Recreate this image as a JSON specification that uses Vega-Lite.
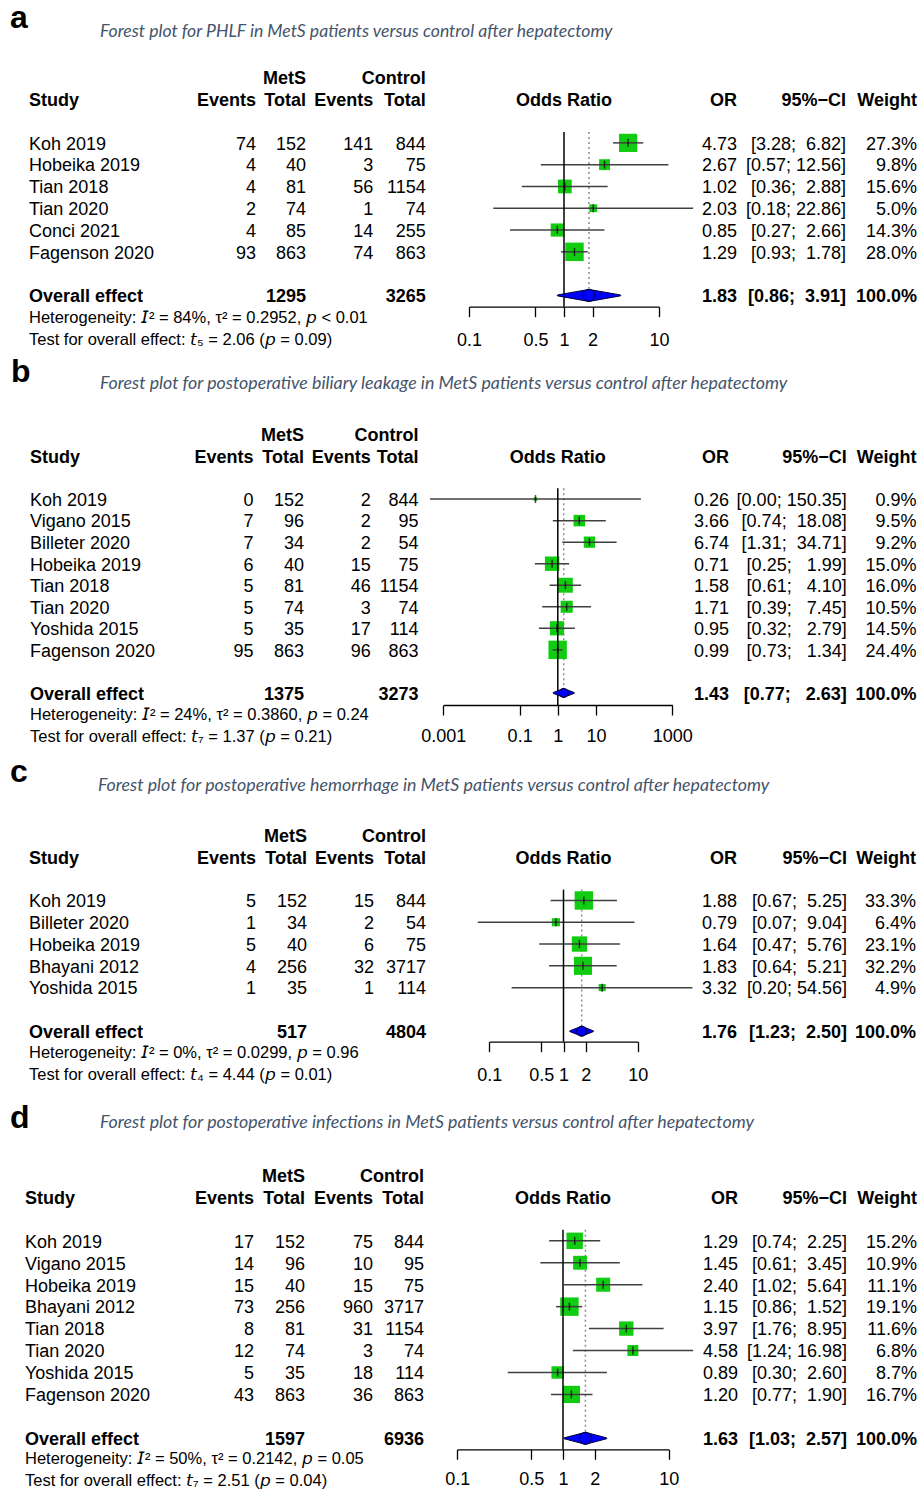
{
"$schema": "https://vega.github.io/schema/vega-lite/v6.json",
"padding": 0,
"background": "white",
"spacing": 0,
"config": {"view": {"stroke": null}, "text": {"font": "Liberation Sans", "fontSize": 18, "color": "#000000", "baseline": "middle", "dy": 1.8}},
"resolve": {"scale": {"x": "independent", "y": "independent", "size": "independent"}},
"datasets": {
"aR": [
{"row":"Koh 2019","e1":74,"n1":152,"e2":141,"n2":844,"or":4.73,"lo":3.28,"hi":6.82,"ci":"[3.28;\u00a0\u00a06.82]","w":0.273},
{"row":"Hobeika 2019","e1":4,"n1":40,"e2":3,"n2":75,"or":2.67,"lo":0.57,"hi":12.56,"ci":"[0.57;\u00a012.56]","w":0.098},
{"row":"Tian 2018","e1":4,"n1":81,"e2":56,"n2":1154,"or":1.02,"lo":0.36,"hi":2.88,"ci":"[0.36;\u00a0\u00a02.88]","w":0.156},
{"row":"Tian 2020","e1":2,"n1":74,"e2":1,"n2":74,"or":2.03,"lo":0.18,"hi":22.86,"ci":"[0.18;\u00a022.86]","w":0.05},
{"row":"Conci 2021","e1":4,"n1":85,"e2":14,"n2":255,"or":0.85,"lo":0.27,"hi":2.66,"ci":"[0.27;\u00a0\u00a02.66]","w":0.143},
{"row":"Fagenson 2020","e1":93,"n1":863,"e2":74,"n2":863,"or":1.29,"lo":0.93,"hi":1.78,"ci":"[0.93;\u00a0\u00a01.78]","w":0.28}
],
"aB": [
{"row":"h1","c0":"","c1":"","c2":"MetS","c3":"","c4":"Control","c5":"","c6":"","c7":""},
{"row":"h2","c0":"Study","c1":"Events","c2":"Total","c3":"Events","c4":"Total","c5":"OR","c6":"95%\u2212CI","c7":"Weight"},
{"row":"overall","c0":"Overall effect","c1":"","c2":"1295","c3":"","c4":"3265","c5":"1.83","c6":"[0.86;\u00a0\u00a03.91]","c7":"100.0%","or":1.83,"lo":0.86,"hi":3.91}
],
"aM": [
{"row":"lab","t":"a","sub":"Forest plot for PHLF in MetS patients versus control after hepatectomy"},
{"row":"het","t":"Heterogeneity: 𝘐² = 84%, τ² = 0.2952, 𝘱 < 0.01"},
{"row":"test","t":"Test for overall effect: 𝘵₅ = 2.06 (𝘱 = 0.09)"}
],
"bR": [
{"row":"Koh 2019","e1":0,"n1":152,"e2":2,"n2":844,"or":0.26,"lo":0.00045,"hi":150.35,"ci":"[0.00;\u00a0150.35]","w":0.009},
{"row":"Vigano 2015","e1":7,"n1":96,"e2":2,"n2":95,"or":3.66,"lo":0.74,"hi":18.08,"ci":"[0.74;\u00a0\u00a018.08]","w":0.095},
{"row":"Billeter 2020","e1":7,"n1":34,"e2":2,"n2":54,"or":6.74,"lo":1.31,"hi":34.71,"ci":"[1.31;\u00a0\u00a034.71]","w":0.092},
{"row":"Hobeika 2019","e1":6,"n1":40,"e2":15,"n2":75,"or":0.71,"lo":0.25,"hi":1.99,"ci":"[0.25;\u00a0\u00a0\u00a01.99]","w":0.15},
{"row":"Tian 2018","e1":5,"n1":81,"e2":46,"n2":1154,"or":1.58,"lo":0.61,"hi":4.10,"ci":"[0.61;\u00a0\u00a0\u00a04.10]","w":0.16},
{"row":"Tian 2020","e1":5,"n1":74,"e2":3,"n2":74,"or":1.71,"lo":0.39,"hi":7.45,"ci":"[0.39;\u00a0\u00a0\u00a07.45]","w":0.105},
{"row":"Yoshida 2015","e1":5,"n1":35,"e2":17,"n2":114,"or":0.95,"lo":0.32,"hi":2.79,"ci":"[0.32;\u00a0\u00a0\u00a02.79]","w":0.145},
{"row":"Fagenson 2020","e1":95,"n1":863,"e2":96,"n2":863,"or":0.99,"lo":0.73,"hi":1.34,"ci":"[0.73;\u00a0\u00a0\u00a01.34]","w":0.244}
],
"bB": [
{"row":"h1","c0":"","c1":"","c2":"MetS","c3":"","c4":"Control","c5":"","c6":"","c7":""},
{"row":"h2","c0":"Study","c1":"Events","c2":"Total","c3":"Events","c4":"Total","c5":"OR","c6":"95%\u2212CI","c7":"Weight"},
{"row":"overall","c0":"Overall effect","c1":"","c2":"1375","c3":"","c4":"3273","c5":"1.43","c6":"[0.77;\u00a0\u00a0\u00a02.63]","c7":"100.0%","or":1.43,"lo":0.77,"hi":2.63}
],
"bM": [
{"row":"lab","t":"b","sub":"Forest plot for postoperative biliary leakage in MetS patients versus control after hepatectomy"},
{"row":"het","t":"Heterogeneity: 𝘐² = 24%, τ² = 0.3860, 𝘱 = 0.24"},
{"row":"test","t":"Test for overall effect: 𝘵₇ = 1.37 (𝘱 = 0.21)"}
],
"cR": [
{"row":"Koh 2019","e1":5,"n1":152,"e2":15,"n2":844,"or":1.88,"lo":0.67,"hi":5.25,"ci":"[0.67;\u00a0\u00a05.25]","w":0.333},
{"row":"Billeter 2020","e1":1,"n1":34,"e2":2,"n2":54,"or":0.79,"lo":0.07,"hi":9.04,"ci":"[0.07;\u00a0\u00a09.04]","w":0.064},
{"row":"Hobeika 2019","e1":5,"n1":40,"e2":6,"n2":75,"or":1.64,"lo":0.47,"hi":5.76,"ci":"[0.47;\u00a0\u00a05.76]","w":0.231},
{"row":"Bhayani 2012","e1":4,"n1":256,"e2":32,"n2":3717,"or":1.83,"lo":0.64,"hi":5.21,"ci":"[0.64;\u00a0\u00a05.21]","w":0.322},
{"row":"Yoshida 2015","e1":1,"n1":35,"e2":1,"n2":114,"or":3.32,"lo":0.20,"hi":54.56,"ci":"[0.20;\u00a054.56]","w":0.049}
],
"cB": [
{"row":"h1","c0":"","c1":"","c2":"MetS","c3":"","c4":"Control","c5":"","c6":"","c7":""},
{"row":"h2","c0":"Study","c1":"Events","c2":"Total","c3":"Events","c4":"Total","c5":"OR","c6":"95%\u2212CI","c7":"Weight"},
{"row":"overall","c0":"Overall effect","c1":"","c2":"517","c3":"","c4":"4804","c5":"1.76","c6":"[1.23;\u00a0\u00a02.50]","c7":"100.0%","or":1.76,"lo":1.23,"hi":2.50}
],
"cM": [
{"row":"lab","t":"c","sub":"Forest plot for postoperative hemorrhage in MetS patients versus control after hepatectomy"},
{"row":"het","t":"Heterogeneity: 𝘐² = 0%, τ² = 0.0299, 𝘱 = 0.96"},
{"row":"test","t":"Test for overall effect: 𝘵₄ = 4.44 (𝘱 = 0.01)"}
],
"dR": [
{"row":"Koh 2019","e1":17,"n1":152,"e2":75,"n2":844,"or":1.29,"lo":0.74,"hi":2.25,"ci":"[0.74;\u00a0\u00a02.25]","w":0.152},
{"row":"Vigano 2015","e1":14,"n1":96,"e2":10,"n2":95,"or":1.45,"lo":0.61,"hi":3.45,"ci":"[0.61;\u00a0\u00a03.45]","w":0.109},
{"row":"Hobeika 2019","e1":15,"n1":40,"e2":15,"n2":75,"or":2.40,"lo":1.02,"hi":5.64,"ci":"[1.02;\u00a0\u00a05.64]","w":0.111},
{"row":"Bhayani 2012","e1":73,"n1":256,"e2":960,"n2":3717,"or":1.15,"lo":0.86,"hi":1.52,"ci":"[0.86;\u00a0\u00a01.52]","w":0.191},
{"row":"Tian 2018","e1":8,"n1":81,"e2":31,"n2":1154,"or":3.97,"lo":1.76,"hi":8.95,"ci":"[1.76;\u00a0\u00a08.95]","w":0.116},
{"row":"Tian 2020","e1":12,"n1":74,"e2":3,"n2":74,"or":4.58,"lo":1.24,"hi":16.98,"ci":"[1.24;\u00a016.98]","w":0.068},
{"row":"Yoshida 2015","e1":5,"n1":35,"e2":18,"n2":114,"or":0.89,"lo":0.30,"hi":2.60,"ci":"[0.30;\u00a0\u00a02.60]","w":0.087},
{"row":"Fagenson 2020","e1":43,"n1":863,"e2":36,"n2":863,"or":1.20,"lo":0.77,"hi":1.90,"ci":"[0.77;\u00a0\u00a01.90]","w":0.167}
],
"dB": [
{"row":"h1","c0":"","c1":"","c2":"MetS","c3":"","c4":"Control","c5":"","c6":"","c7":""},
{"row":"h2","c0":"Study","c1":"Events","c2":"Total","c3":"Events","c4":"Total","c5":"OR","c6":"95%\u2212CI","c7":"Weight"},
{"row":"overall","c0":"Overall effect","c1":"","c2":"1597","c3":"","c4":"6936","c5":"1.63","c6":"[1.03;\u00a0\u00a02.57]","c7":"100.0%","or":1.63,"lo":1.03,"hi":2.57}
],
"dM": [
{"row":"lab","t":"d","sub":"Forest plot for postoperative infections in MetS patients versus control after hepatectomy"},
{"row":"het","t":"Heterogeneity: 𝘐² = 50%, τ² = 0.2142, 𝘱 = 0.05"},
{"row":"test","t":"Test for overall effect: 𝘵₇ = 2.51 (𝘱 = 0.04)"}
]
},
"vconcat": [
{
"width": 921, "height": 350,
"encoding": {"y": {"field": "row", "type": "ordinal", "axis": null, "scale": {"type": "point", "padding": 0, "range": [33.9, 339], "domain": ["lab","gap","h1","h2","sp1","Koh 2019","Hobeika 2019","Tian 2018","Tian 2020","Conci 2021","Fagenson 2020","sp2","overall","het","test"]}}},
"resolve": {"scale": {"x": "independent", "size": "independent"}, "axis": {"x": "independent"}},
"layer": [
{"data":{"name":"aM"},"transform":[{"filter":"datum.row=='lab'"}],"mark":{"type":"text","align":"left","baseline":"alphabetic","fontSize":32,"fontWeight":"bold","dy":-5.6},"encoding":{"x":{"datum":10,"type":"quantitative","scale":{"domain":[0,921],"nice":false,"zero":false},"axis":null},"text":{"field":"t","type":"nominal"}}},
{"data":{"name":"aM"},"transform":[{"filter":"datum.row=='lab'"}],"mark":{"type":"text","align":"left","font":"Lato","fontStyle":"italic","fontSize":17.6,"color":"#44546a","dy":-1.5},"encoding":{"x":{"datum":100,"type":"quantitative","scale":{"domain":[0,921],"nice":false,"zero":false},"axis":null},"text":{"field":"sub","type":"nominal"}}},
{"data":{"name":"aM"},"transform":[{"filter":"datum.row!='lab'"}],"mark":{"type":"text","align":"left","fontSize":16.5,"dy":0.5},"encoding":{"x":{"datum":29,"type":"quantitative","scale":{"domain":[0,921],"nice":false,"zero":false},"axis":null},"text":{"field":"t","type":"nominal"}}},
{"data":{"name":"aB"},"mark":{"type":"text","align":"left","fontWeight":"bold"},"encoding":{"x":{"datum":29,"type":"quantitative","scale":{"domain":[0,921],"nice":false,"zero":false},"axis":null},"text":{"field":"c0","type":"nominal"}}},
{"data":{"name":"aB"},"mark":{"type":"text","align":"right","fontWeight":"bold"},"encoding":{"x":{"datum":256,"type":"quantitative","scale":{"domain":[0,921],"nice":false,"zero":false},"axis":null},"text":{"field":"c1","type":"nominal"}}},
{"data":{"name":"aB"},"mark":{"type":"text","align":"right","fontWeight":"bold"},"encoding":{"x":{"datum":306,"type":"quantitative","scale":{"domain":[0,921],"nice":false,"zero":false},"axis":null},"text":{"field":"c2","type":"nominal"}}},
{"data":{"name":"aB"},"mark":{"type":"text","align":"right","fontWeight":"bold"},"encoding":{"x":{"datum":373.3,"type":"quantitative","scale":{"domain":[0,921],"nice":false,"zero":false},"axis":null},"text":{"field":"c3","type":"nominal"}}},
{"data":{"name":"aB"},"mark":{"type":"text","align":"right","fontWeight":"bold"},"encoding":{"x":{"datum":425.7,"type":"quantitative","scale":{"domain":[0,921],"nice":false,"zero":false},"axis":null},"text":{"field":"c4","type":"nominal"}}},
{"data":{"name":"aB"},"mark":{"type":"text","align":"right","fontWeight":"bold"},"encoding":{"x":{"datum":737,"type":"quantitative","scale":{"domain":[0,921],"nice":false,"zero":false},"axis":null},"text":{"field":"c5","type":"nominal"}}},
{"data":{"name":"aB"},"mark":{"type":"text","align":"right","fontWeight":"bold"},"encoding":{"x":{"datum":846,"type":"quantitative","scale":{"domain":[0,921],"nice":false,"zero":false},"axis":null},"text":{"field":"c6","type":"nominal"}}},
{"data":{"name":"aB"},"mark":{"type":"text","align":"right","fontWeight":"bold"},"encoding":{"x":{"datum":917,"type":"quantitative","scale":{"domain":[0,921],"nice":false,"zero":false},"axis":null},"text":{"field":"c7","type":"nominal"}}},
{"data":{"name":"aR"},"mark":{"type":"text","align":"left"},"encoding":{"x":{"datum":29,"type":"quantitative","scale":{"domain":[0,921],"nice":false,"zero":false},"axis":null},"text":{"field":"row","type":"nominal"}}},
{"data":{"name":"aR"},"mark":{"type":"text","align":"right"},"encoding":{"x":{"datum":256,"type":"quantitative","scale":{"domain":[0,921],"nice":false,"zero":false},"axis":null},"text":{"field":"e1","type":"nominal"}}},
{"data":{"name":"aR"},"mark":{"type":"text","align":"right"},"encoding":{"x":{"datum":306,"type":"quantitative","scale":{"domain":[0,921],"nice":false,"zero":false},"axis":null},"text":{"field":"n1","type":"nominal"}}},
{"data":{"name":"aR"},"mark":{"type":"text","align":"right"},"encoding":{"x":{"datum":373.3,"type":"quantitative","scale":{"domain":[0,921],"nice":false,"zero":false},"axis":null},"text":{"field":"e2","type":"nominal"}}},
{"data":{"name":"aR"},"mark":{"type":"text","align":"right"},"encoding":{"x":{"datum":425.7,"type":"quantitative","scale":{"domain":[0,921],"nice":false,"zero":false},"axis":null},"text":{"field":"n2","type":"nominal"}}},
{"data":{"name":"aR"},"mark":{"type":"text","align":"right"},"encoding":{"x":{"datum":737,"type":"quantitative","scale":{"domain":[0,921],"nice":false,"zero":false},"axis":null},"text":{"field":"or","type":"quantitative","format":".2f"}}},
{"data":{"name":"aR"},"mark":{"type":"text","align":"right"},"encoding":{"x":{"datum":846,"type":"quantitative","scale":{"domain":[0,921],"nice":false,"zero":false},"axis":null},"text":{"field":"ci","type":"nominal"}}},
{"data":{"name":"aR"},"mark":{"type":"text","align":"right"},"encoding":{"x":{"datum":917,"type":"quantitative","scale":{"domain":[0,921],"nice":false,"zero":false},"axis":null},"text":{"field":"w","type":"quantitative","format":".1%"}}},
{"data":{"name":"aB"},"transform":[{"filter":"datum.row=='overall'"}],"mark":{"type":"rule","color":"#8c8c8c","strokeWidth":1.5,"strokeDash":[2,3],"yOffset":10.9,"y2Offset":-6},"encoding":{"x":{"field":"or","type":"quantitative","scale":{"type":"log","domain":[0.1,10],"range":[469,659],"nice":false},"axis":null},"y":{"datum":"sp1"},"y2":{"datum":"overall"}}},
{"data":{"name":"aR"},"mark":{"type":"point","shape":"square","filled":true,"color":"#11cc11","opacity":1},"encoding":{"x":{"field":"or","type":"quantitative","scale":{"type":"log","domain":[0.1,10],"range":[469,659],"nice":false},"axis":null},"size":{"field":"w","type":"quantitative","scale":{"domain":[0,0.28],"range":[0,340]},"legend":null}}},
{"data":{"name":"aR"},"mark":{"type":"rule","color":"#404040","strokeWidth":1.5},"encoding":{"x":{"field":"lo","type":"quantitative","scale":{"type":"log","domain":[0.1,10],"range":[469,659],"nice":false},"axis":{"orient":"bottom","offset":-43.3,"values":[0.1,0.5,1,2,10],"format":"~g","title":null,"grid":false,"domainColor":"#000000","domainWidth":1.3,"tickColor":"#000000","tickWidth":1.3,"tickSize":10,"labelFont":"Liberation Sans","labelFontSize":18,"labelColor":"#000000","labelBaseline":"middle","labelPadding":23.5,"labelFlush":false,"labelOverlap":false}},"x2":{"field":"hi"}}},
{"data":{"name":"aR"},"mark":{"type":"tick","color":"#000000","thickness":1.5,"size":8},"encoding":{"x":{"field":"or","type":"quantitative","scale":{"type":"log","domain":[0.1,10],"range":[469,659],"nice":false},"axis":null}}},
{"data":{"values":[{}]},"mark":{"type":"rule","color":"#000000","strokeWidth":1.5,"yOffset":10.9,"y2Offset":-10.5},"encoding":{"x":{"datum":1,"type":"quantitative","scale":{"type":"log","domain":[0.1,10],"range":[469,659],"nice":false},"axis":null},"y":{"datum":"sp1"},"y2":{"datum":"het"}}},
{"data":{"name":"aB"},"transform":[{"filter":"datum.row=='overall'"},{"fold":["lo","or","hi"],"as":["k","v"]}],"mark":{"type":"trail","color":"#0000ff","stroke":"#00003a","strokeWidth":1},"encoding":{"x":{"field":"v","type":"quantitative","scale":{"type":"log","domain":[0.1,10],"range":[469,659],"nice":false},"axis":null},"size":{"field":"k","type":"ordinal","scale":{"type":"ordinal","domain":["lo","or","hi"],"range":[0,12,0]},"legend":null},"order":{"field":"v","type":"quantitative"}}},
{"data":{"values":[{"t":"Odds Ratio"}]},"mark":{"type":"text","align":"center","fontWeight":"bold"},"encoding":{"x":{"datum":1,"type":"quantitative","scale":{"type":"log","domain":[0.1,10],"range":[469,659],"nice":false},"axis":null},"y":{"datum":"h2"},"text":{"field":"t","type":"nominal"}}}
]
},
{
"width": 921, "height": 402,
"encoding": {"y": {"field": "row", "type": "ordinal", "axis": null, "scale": {"type": "point", "padding": 0, "range": [41.4, 386], "domain": ["lab","gap","h1","h2","sp1","Koh 2019","Vigano 2015","Billeter 2020","Hobeika 2019","Tian 2018","Tian 2020","Yoshida 2015","Fagenson 2020","sp2","overall","het","test"]}}},
"resolve": {"scale": {"x": "independent", "size": "independent"}, "axis": {"x": "independent"}},
"layer": [
{"data":{"name":"bM"},"transform":[{"filter":"datum.row=='lab'"}],"mark":{"type":"text","align":"left","baseline":"alphabetic","fontSize":32,"fontWeight":"bold","dy":-9.4},"encoding":{"x":{"datum":11,"type":"quantitative","scale":{"domain":[0,921],"nice":false,"zero":false},"axis":null},"text":{"field":"t","type":"nominal"}}},
{"data":{"name":"bM"},"transform":[{"filter":"datum.row=='lab'"}],"mark":{"type":"text","align":"left","font":"Lato","fontStyle":"italic","fontSize":17.8,"color":"#44546a","dy":-7},"encoding":{"x":{"datum":100,"type":"quantitative","scale":{"domain":[0,921],"nice":false,"zero":false},"axis":null},"text":{"field":"sub","type":"nominal"}}},
{"data":{"name":"bM"},"transform":[{"filter":"datum.row!='lab'"}],"mark":{"type":"text","align":"left","fontSize":16.5,"dy":0.5},"encoding":{"x":{"datum":30,"type":"quantitative","scale":{"domain":[0,921],"nice":false,"zero":false},"axis":null},"text":{"field":"t","type":"nominal"}}},
{"data":{"name":"bB"},"mark":{"type":"text","align":"left","fontWeight":"bold"},"encoding":{"x":{"datum":30,"type":"quantitative","scale":{"domain":[0,921],"nice":false,"zero":false},"axis":null},"text":{"field":"c0","type":"nominal"}}},
{"data":{"name":"bB"},"mark":{"type":"text","align":"right","fontWeight":"bold"},"encoding":{"x":{"datum":253.5,"type":"quantitative","scale":{"domain":[0,921],"nice":false,"zero":false},"axis":null},"text":{"field":"c1","type":"nominal"}}},
{"data":{"name":"bB"},"mark":{"type":"text","align":"right","fontWeight":"bold"},"encoding":{"x":{"datum":304,"type":"quantitative","scale":{"domain":[0,921],"nice":false,"zero":false},"axis":null},"text":{"field":"c2","type":"nominal"}}},
{"data":{"name":"bB"},"mark":{"type":"text","align":"right","fontWeight":"bold"},"encoding":{"x":{"datum":370.7,"type":"quantitative","scale":{"domain":[0,921],"nice":false,"zero":false},"axis":null},"text":{"field":"c3","type":"nominal"}}},
{"data":{"name":"bB"},"mark":{"type":"text","align":"right","fontWeight":"bold"},"encoding":{"x":{"datum":418.5,"type":"quantitative","scale":{"domain":[0,921],"nice":false,"zero":false},"axis":null},"text":{"field":"c4","type":"nominal"}}},
{"data":{"name":"bB"},"mark":{"type":"text","align":"right","fontWeight":"bold"},"encoding":{"x":{"datum":729,"type":"quantitative","scale":{"domain":[0,921],"nice":false,"zero":false},"axis":null},"text":{"field":"c5","type":"nominal"}}},
{"data":{"name":"bB"},"mark":{"type":"text","align":"right","fontWeight":"bold"},"encoding":{"x":{"datum":846.7,"type":"quantitative","scale":{"domain":[0,921],"nice":false,"zero":false},"axis":null},"text":{"field":"c6","type":"nominal"}}},
{"data":{"name":"bB"},"mark":{"type":"text","align":"right","fontWeight":"bold"},"encoding":{"x":{"datum":916.5,"type":"quantitative","scale":{"domain":[0,921],"nice":false,"zero":false},"axis":null},"text":{"field":"c7","type":"nominal"}}},
{"data":{"name":"bR"},"mark":{"type":"text","align":"left"},"encoding":{"x":{"datum":30,"type":"quantitative","scale":{"domain":[0,921],"nice":false,"zero":false},"axis":null},"text":{"field":"row","type":"nominal"}}},
{"data":{"name":"bR"},"mark":{"type":"text","align":"right"},"encoding":{"x":{"datum":253.5,"type":"quantitative","scale":{"domain":[0,921],"nice":false,"zero":false},"axis":null},"text":{"field":"e1","type":"nominal"}}},
{"data":{"name":"bR"},"mark":{"type":"text","align":"right"},"encoding":{"x":{"datum":304,"type":"quantitative","scale":{"domain":[0,921],"nice":false,"zero":false},"axis":null},"text":{"field":"n1","type":"nominal"}}},
{"data":{"name":"bR"},"mark":{"type":"text","align":"right"},"encoding":{"x":{"datum":370.7,"type":"quantitative","scale":{"domain":[0,921],"nice":false,"zero":false},"axis":null},"text":{"field":"e2","type":"nominal"}}},
{"data":{"name":"bR"},"mark":{"type":"text","align":"right"},"encoding":{"x":{"datum":418.5,"type":"quantitative","scale":{"domain":[0,921],"nice":false,"zero":false},"axis":null},"text":{"field":"n2","type":"nominal"}}},
{"data":{"name":"bR"},"mark":{"type":"text","align":"right"},"encoding":{"x":{"datum":729,"type":"quantitative","scale":{"domain":[0,921],"nice":false,"zero":false},"axis":null},"text":{"field":"or","type":"quantitative","format":".2f"}}},
{"data":{"name":"bR"},"mark":{"type":"text","align":"right"},"encoding":{"x":{"datum":846.7,"type":"quantitative","scale":{"domain":[0,921],"nice":false,"zero":false},"axis":null},"text":{"field":"ci","type":"nominal"}}},
{"data":{"name":"bR"},"mark":{"type":"text","align":"right"},"encoding":{"x":{"datum":916.5,"type":"quantitative","scale":{"domain":[0,921],"nice":false,"zero":false},"axis":null},"text":{"field":"w","type":"quantitative","format":".1%"}}},
{"data":{"name":"bB"},"transform":[{"filter":"datum.row=='overall'"}],"mark":{"type":"rule","color":"#8c8c8c","strokeWidth":1.5,"strokeDash":[2,3],"yOffset":10.8,"y2Offset":-4.5},"encoding":{"x":{"field":"or","type":"quantitative","scale":{"type":"log","domain":[0.001,1000],"range":[443.3,672.3],"nice":false},"axis":null},"y":{"datum":"sp1"},"y2":{"datum":"overall"}}},
{"data":{"name":"bR"},"mark":{"type":"point","shape":"square","filled":true,"color":"#11cc11","opacity":1},"encoding":{"x":{"field":"or","type":"quantitative","scale":{"type":"log","domain":[0.001,1000],"range":[443.3,672.3],"nice":false},"axis":null},"size":{"field":"w","type":"quantitative","scale":{"domain":[0,0.244],"range":[0,340]},"legend":null}}},
{"data":{"name":"bR"},"mark":{"type":"rule","color":"#404040","strokeWidth":1.5},"encoding":{"x":{"field":"lo","type":"quantitative","scale":{"type":"log","domain":[0.001,1000],"range":[443.3,672.3],"nice":false},"axis":{"orient":"bottom","offset":-47,"values":[0.001,0.1,1,10,1000],"format":"~g","title":null,"grid":false,"domainColor":"#000000","domainWidth":1.3,"tickColor":"#000000","tickWidth":1.3,"tickSize":10,"labelFont":"Liberation Sans","labelFontSize":18,"labelColor":"#000000","labelBaseline":"middle","labelPadding":21.7,"labelFlush":false,"labelOverlap":false}},"x2":{"field":"hi"}}},
{"data":{"name":"bR"},"mark":{"type":"tick","color":"#000000","thickness":1.5,"size":8},"encoding":{"x":{"field":"or","type":"quantitative","scale":{"type":"log","domain":[0.001,1000],"range":[443.3,672.3],"nice":false},"axis":null}}},
{"data":{"values":[{}]},"mark":{"type":"rule","color":"#000000","strokeWidth":1.5,"yOffset":10.8,"y2Offset":-9.5},"encoding":{"x":{"datum":1,"type":"quantitative","scale":{"type":"log","domain":[0.001,1000],"range":[443.3,672.3],"nice":false},"axis":null},"y":{"datum":"sp1"},"y2":{"datum":"het"}}},
{"data":{"name":"bB"},"transform":[{"filter":"datum.row=='overall'"},{"fold":["lo","or","hi"],"as":["k","v"]}],"mark":{"type":"trail","color":"#0000ff","stroke":"#00003a","strokeWidth":1},"encoding":{"x":{"field":"v","type":"quantitative","scale":{"type":"log","domain":[0.001,1000],"range":[443.3,672.3],"nice":false},"axis":null},"size":{"field":"k","type":"ordinal","scale":{"type":"ordinal","domain":["lo","or","hi"],"range":[0,9,0]},"legend":null},"order":{"field":"v","type":"quantitative"}}},
{"data":{"values":[{"t":"Odds Ratio"}]},"mark":{"type":"text","align":"center","fontWeight":"bold"},"encoding":{"x":{"datum":1,"type":"quantitative","scale":{"type":"log","domain":[0.001,1000],"range":[443.3,672.3],"nice":false},"axis":null},"y":{"datum":"h2"},"text":{"field":"t","type":"nominal"}}}
]
},
{
"width": 921, "height": 340,
"encoding": {"y": {"field": "row", "type": "ordinal", "axis": null, "scale": {"type": "point", "padding": 0, "range": [39.5, 322.8], "domain": ["lab","gap","h1","h2","sp1","Koh 2019","Billeter 2020","Hobeika 2019","Bhayani 2012","Yoshida 2015","sp2","overall","het","test"]}}},
"resolve": {"scale": {"x": "independent", "size": "independent"}, "axis": {"x": "independent"}},
"layer": [
{"data":{"name":"cM"},"transform":[{"filter":"datum.row=='lab'"}],"mark":{"type":"text","align":"left","baseline":"alphabetic","fontSize":32,"fontWeight":"bold","dy":-9.5},"encoding":{"x":{"datum":10,"type":"quantitative","scale":{"domain":[0,921],"nice":false,"zero":false},"axis":null},"text":{"field":"t","type":"nominal"}}},
{"data":{"name":"cM"},"transform":[{"filter":"datum.row=='lab'"}],"mark":{"type":"text","align":"left","font":"Lato","fontStyle":"italic","fontSize":17.8,"color":"#44546a","dy":-5.2},"encoding":{"x":{"datum":98,"type":"quantitative","scale":{"domain":[0,921],"nice":false,"zero":false},"axis":null},"text":{"field":"sub","type":"nominal"}}},
{"data":{"name":"cM"},"transform":[{"filter":"datum.row!='lab'"}],"mark":{"type":"text","align":"left","fontSize":16.5,"dy":0},"encoding":{"x":{"datum":29,"type":"quantitative","scale":{"domain":[0,921],"nice":false,"zero":false},"axis":null},"text":{"field":"t","type":"nominal"}}},
{"data":{"name":"cB"},"mark":{"type":"text","align":"left","fontWeight":"bold"},"encoding":{"x":{"datum":29,"type":"quantitative","scale":{"domain":[0,921],"nice":false,"zero":false},"axis":null},"text":{"field":"c0","type":"nominal"}}},
{"data":{"name":"cB"},"mark":{"type":"text","align":"right","fontWeight":"bold"},"encoding":{"x":{"datum":256,"type":"quantitative","scale":{"domain":[0,921],"nice":false,"zero":false},"axis":null},"text":{"field":"c1","type":"nominal"}}},
{"data":{"name":"cB"},"mark":{"type":"text","align":"right","fontWeight":"bold"},"encoding":{"x":{"datum":307,"type":"quantitative","scale":{"domain":[0,921],"nice":false,"zero":false},"axis":null},"text":{"field":"c2","type":"nominal"}}},
{"data":{"name":"cB"},"mark":{"type":"text","align":"right","fontWeight":"bold"},"encoding":{"x":{"datum":374,"type":"quantitative","scale":{"domain":[0,921],"nice":false,"zero":false},"axis":null},"text":{"field":"c3","type":"nominal"}}},
{"data":{"name":"cB"},"mark":{"type":"text","align":"right","fontWeight":"bold"},"encoding":{"x":{"datum":426,"type":"quantitative","scale":{"domain":[0,921],"nice":false,"zero":false},"axis":null},"text":{"field":"c4","type":"nominal"}}},
{"data":{"name":"cB"},"mark":{"type":"text","align":"right","fontWeight":"bold"},"encoding":{"x":{"datum":737,"type":"quantitative","scale":{"domain":[0,921],"nice":false,"zero":false},"axis":null},"text":{"field":"c5","type":"nominal"}}},
{"data":{"name":"cB"},"mark":{"type":"text","align":"right","fontWeight":"bold"},"encoding":{"x":{"datum":847,"type":"quantitative","scale":{"domain":[0,921],"nice":false,"zero":false},"axis":null},"text":{"field":"c6","type":"nominal"}}},
{"data":{"name":"cB"},"mark":{"type":"text","align":"right","fontWeight":"bold"},"encoding":{"x":{"datum":916,"type":"quantitative","scale":{"domain":[0,921],"nice":false,"zero":false},"axis":null},"text":{"field":"c7","type":"nominal"}}},
{"data":{"name":"cR"},"mark":{"type":"text","align":"left"},"encoding":{"x":{"datum":29,"type":"quantitative","scale":{"domain":[0,921],"nice":false,"zero":false},"axis":null},"text":{"field":"row","type":"nominal"}}},
{"data":{"name":"cR"},"mark":{"type":"text","align":"right"},"encoding":{"x":{"datum":256,"type":"quantitative","scale":{"domain":[0,921],"nice":false,"zero":false},"axis":null},"text":{"field":"e1","type":"nominal"}}},
{"data":{"name":"cR"},"mark":{"type":"text","align":"right"},"encoding":{"x":{"datum":307,"type":"quantitative","scale":{"domain":[0,921],"nice":false,"zero":false},"axis":null},"text":{"field":"n1","type":"nominal"}}},
{"data":{"name":"cR"},"mark":{"type":"text","align":"right"},"encoding":{"x":{"datum":374,"type":"quantitative","scale":{"domain":[0,921],"nice":false,"zero":false},"axis":null},"text":{"field":"e2","type":"nominal"}}},
{"data":{"name":"cR"},"mark":{"type":"text","align":"right"},"encoding":{"x":{"datum":426,"type":"quantitative","scale":{"domain":[0,921],"nice":false,"zero":false},"axis":null},"text":{"field":"n2","type":"nominal"}}},
{"data":{"name":"cR"},"mark":{"type":"text","align":"right"},"encoding":{"x":{"datum":737,"type":"quantitative","scale":{"domain":[0,921],"nice":false,"zero":false},"axis":null},"text":{"field":"or","type":"quantitative","format":".2f"}}},
{"data":{"name":"cR"},"mark":{"type":"text","align":"right"},"encoding":{"x":{"datum":847,"type":"quantitative","scale":{"domain":[0,921],"nice":false,"zero":false},"axis":null},"text":{"field":"ci","type":"nominal"}}},
{"data":{"name":"cR"},"mark":{"type":"text","align":"right"},"encoding":{"x":{"datum":916,"type":"quantitative","scale":{"domain":[0,921],"nice":false,"zero":false},"axis":null},"text":{"field":"w","type":"quantitative","format":".1%"}}},
{"data":{"name":"cB"},"transform":[{"filter":"datum.row=='overall'"}],"mark":{"type":"rule","color":"#8c8c8c","strokeWidth":1.5,"strokeDash":[2,3],"yOffset":10.9,"y2Offset":-5},"encoding":{"x":{"field":"or","type":"quantitative","scale":{"type":"log","domain":[0.1,10],"range":[489.3,637.7],"nice":false},"axis":null},"y":{"datum":"sp1"},"y2":{"datum":"overall"}}},
{"data":{"name":"cR"},"mark":{"type":"point","shape":"square","filled":true,"color":"#11cc11","opacity":1},"encoding":{"x":{"field":"or","type":"quantitative","scale":{"type":"log","domain":[0.1,10],"range":[489.3,637.7],"nice":false},"axis":null},"size":{"field":"w","type":"quantitative","scale":{"domain":[0,0.333],"range":[0,340]},"legend":null}}},
{"data":{"name":"cR"},"mark":{"type":"rule","color":"#404040","strokeWidth":1.5},"encoding":{"x":{"field":"lo","type":"quantitative","scale":{"type":"log","domain":[0.1,10],"range":[489.3,637.7],"nice":false},"axis":{"orient":"bottom","offset":-50.3,"values":[0.1,0.5,1,2,10],"format":"~g","title":null,"grid":false,"domainColor":"#000000","domainWidth":1.3,"tickColor":"#000000","tickWidth":1.3,"tickSize":10,"labelFont":"Liberation Sans","labelFontSize":18,"labelColor":"#000000","labelBaseline":"middle","labelPadding":23.5,"labelFlush":false,"labelOverlap":false}},"x2":{"field":"hi"}}},
{"data":{"name":"cR"},"mark":{"type":"tick","color":"#000000","thickness":1.5,"size":8},"encoding":{"x":{"field":"or","type":"quantitative","scale":{"type":"log","domain":[0.1,10],"range":[489.3,637.7],"nice":false},"axis":null}}},
{"data":{"values":[{}]},"mark":{"type":"rule","color":"#000000","strokeWidth":1.5,"yOffset":10.9,"y2Offset":-11.3},"encoding":{"x":{"datum":1,"type":"quantitative","scale":{"type":"log","domain":[0.1,10],"range":[489.3,637.7],"nice":false},"axis":null},"y":{"datum":"sp1"},"y2":{"datum":"het"}}},
{"data":{"name":"cB"},"transform":[{"filter":"datum.row=='overall'"},{"fold":["lo","or","hi"],"as":["k","v"]}],"mark":{"type":"trail","color":"#0000ff","stroke":"#00003a","strokeWidth":1},"encoding":{"x":{"field":"v","type":"quantitative","scale":{"type":"log","domain":[0.1,10],"range":[489.3,637.7],"nice":false},"axis":null},"size":{"field":"k","type":"ordinal","scale":{"type":"ordinal","domain":["lo","or","hi"],"range":[0,10,0]},"legend":null},"order":{"field":"v","type":"quantitative"}}},
{"data":{"values":[{"t":"Odds Ratio"}]},"mark":{"type":"text","align":"center","fontWeight":"bold"},"encoding":{"x":{"datum":1,"type":"quantitative","scale":{"type":"log","domain":[0.1,10],"range":[489.3,637.7],"nice":false},"axis":null},"y":{"datum":"h2"},"text":{"field":"t","type":"nominal"}}}
]
},
{
"width": 921, "height": 397,
"encoding": {"y": {"field": "row", "type": "ordinal", "axis": null, "scale": {"type": "point", "padding": 0, "range": [39.1, 390.2], "domain": ["lab","gap","h1","h2","sp1","Koh 2019","Vigano 2015","Hobeika 2019","Bhayani 2012","Tian 2018","Tian 2020","Yoshida 2015","Fagenson 2020","sp2","overall","het","test"]}}},
"resolve": {"scale": {"x": "independent", "size": "independent"}, "axis": {"x": "independent"}},
"layer": [
{"data":{"name":"dM"},"transform":[{"filter":"datum.row=='lab'"}],"mark":{"type":"text","align":"left","baseline":"alphabetic","fontSize":32,"fontWeight":"bold","dy":-3.1},"encoding":{"x":{"datum":10,"type":"quantitative","scale":{"domain":[0,921],"nice":false,"zero":false},"axis":null},"text":{"field":"t","type":"nominal"}}},
{"data":{"name":"dM"},"transform":[{"filter":"datum.row=='lab'"}],"mark":{"type":"text","align":"left","font":"Lato","fontStyle":"italic","fontSize":17.8,"color":"#44546a","dy":-8.5},"encoding":{"x":{"datum":100,"type":"quantitative","scale":{"domain":[0,921],"nice":false,"zero":false},"axis":null},"text":{"field":"sub","type":"nominal"}}},
{"data":{"name":"dM"},"transform":[{"filter":"datum.row!='lab'"}],"mark":{"type":"text","align":"left","fontSize":16.5,"dy":-1.2},"encoding":{"x":{"datum":25,"type":"quantitative","scale":{"domain":[0,921],"nice":false,"zero":false},"axis":null},"text":{"field":"t","type":"nominal"}}},
{"data":{"name":"dB"},"mark":{"type":"text","align":"left","fontWeight":"bold"},"encoding":{"x":{"datum":25,"type":"quantitative","scale":{"domain":[0,921],"nice":false,"zero":false},"axis":null},"text":{"field":"c0","type":"nominal"}}},
{"data":{"name":"dB"},"mark":{"type":"text","align":"right","fontWeight":"bold"},"encoding":{"x":{"datum":254,"type":"quantitative","scale":{"domain":[0,921],"nice":false,"zero":false},"axis":null},"text":{"field":"c1","type":"nominal"}}},
{"data":{"name":"dB"},"mark":{"type":"text","align":"right","fontWeight":"bold"},"encoding":{"x":{"datum":305,"type":"quantitative","scale":{"domain":[0,921],"nice":false,"zero":false},"axis":null},"text":{"field":"c2","type":"nominal"}}},
{"data":{"name":"dB"},"mark":{"type":"text","align":"right","fontWeight":"bold"},"encoding":{"x":{"datum":373,"type":"quantitative","scale":{"domain":[0,921],"nice":false,"zero":false},"axis":null},"text":{"field":"c3","type":"nominal"}}},
{"data":{"name":"dB"},"mark":{"type":"text","align":"right","fontWeight":"bold"},"encoding":{"x":{"datum":424,"type":"quantitative","scale":{"domain":[0,921],"nice":false,"zero":false},"axis":null},"text":{"field":"c4","type":"nominal"}}},
{"data":{"name":"dB"},"mark":{"type":"text","align":"right","fontWeight":"bold"},"encoding":{"x":{"datum":738,"type":"quantitative","scale":{"domain":[0,921],"nice":false,"zero":false},"axis":null},"text":{"field":"c5","type":"nominal"}}},
{"data":{"name":"dB"},"mark":{"type":"text","align":"right","fontWeight":"bold"},"encoding":{"x":{"datum":847,"type":"quantitative","scale":{"domain":[0,921],"nice":false,"zero":false},"axis":null},"text":{"field":"c6","type":"nominal"}}},
{"data":{"name":"dB"},"mark":{"type":"text","align":"right","fontWeight":"bold"},"encoding":{"x":{"datum":917,"type":"quantitative","scale":{"domain":[0,921],"nice":false,"zero":false},"axis":null},"text":{"field":"c7","type":"nominal"}}},
{"data":{"name":"dR"},"mark":{"type":"text","align":"left"},"encoding":{"x":{"datum":25,"type":"quantitative","scale":{"domain":[0,921],"nice":false,"zero":false},"axis":null},"text":{"field":"row","type":"nominal"}}},
{"data":{"name":"dR"},"mark":{"type":"text","align":"right"},"encoding":{"x":{"datum":254,"type":"quantitative","scale":{"domain":[0,921],"nice":false,"zero":false},"axis":null},"text":{"field":"e1","type":"nominal"}}},
{"data":{"name":"dR"},"mark":{"type":"text","align":"right"},"encoding":{"x":{"datum":305,"type":"quantitative","scale":{"domain":[0,921],"nice":false,"zero":false},"axis":null},"text":{"field":"n1","type":"nominal"}}},
{"data":{"name":"dR"},"mark":{"type":"text","align":"right"},"encoding":{"x":{"datum":373,"type":"quantitative","scale":{"domain":[0,921],"nice":false,"zero":false},"axis":null},"text":{"field":"e2","type":"nominal"}}},
{"data":{"name":"dR"},"mark":{"type":"text","align":"right"},"encoding":{"x":{"datum":424,"type":"quantitative","scale":{"domain":[0,921],"nice":false,"zero":false},"axis":null},"text":{"field":"n2","type":"nominal"}}},
{"data":{"name":"dR"},"mark":{"type":"text","align":"right"},"encoding":{"x":{"datum":738,"type":"quantitative","scale":{"domain":[0,921],"nice":false,"zero":false},"axis":null},"text":{"field":"or","type":"quantitative","format":".2f"}}},
{"data":{"name":"dR"},"mark":{"type":"text","align":"right"},"encoding":{"x":{"datum":847,"type":"quantitative","scale":{"domain":[0,921],"nice":false,"zero":false},"axis":null},"text":{"field":"ci","type":"nominal"}}},
{"data":{"name":"dR"},"mark":{"type":"text","align":"right"},"encoding":{"x":{"datum":917,"type":"quantitative","scale":{"domain":[0,921],"nice":false,"zero":false},"axis":null},"text":{"field":"w","type":"quantitative","format":".1%"}}},
{"data":{"name":"dB"},"transform":[{"filter":"datum.row=='overall'"}],"mark":{"type":"rule","color":"#8c8c8c","strokeWidth":1.5,"strokeDash":[2,3],"yOffset":10.97,"y2Offset":-6},"encoding":{"x":{"field":"or","type":"quantitative","scale":{"type":"log","domain":[0.1,10],"range":[457.3,668.7],"nice":false},"axis":null},"y":{"datum":"sp1"},"y2":{"datum":"overall"}}},
{"data":{"name":"dR"},"mark":{"type":"point","shape":"square","filled":true,"color":"#11cc11","opacity":1},"encoding":{"x":{"field":"or","type":"quantitative","scale":{"type":"log","domain":[0.1,10],"range":[457.3,668.7],"nice":false},"axis":null},"size":{"field":"w","type":"quantitative","scale":{"domain":[0,0.191],"range":[0,340]},"legend":null}}},
{"data":{"name":"dR"},"mark":{"type":"rule","color":"#404040","strokeWidth":1.5},"encoding":{"x":{"field":"lo","type":"quantitative","scale":{"type":"log","domain":[0.1,10],"range":[457.3,668.7],"nice":false},"axis":{"orient":"bottom","offset":-39.7,"values":[0.1,0.5,1,2,10],"format":"~g","title":null,"grid":false,"domainColor":"#000000","domainWidth":1.3,"tickColor":"#000000","tickWidth":1.3,"tickSize":10,"labelFont":"Liberation Sans","labelFontSize":18,"labelColor":"#000000","labelBaseline":"middle","labelPadding":20,"labelFlush":false,"labelOverlap":false}},"x2":{"field":"hi"}}},
{"data":{"name":"dR"},"mark":{"type":"tick","color":"#000000","thickness":1.5,"size":8},"encoding":{"x":{"field":"or","type":"quantitative","scale":{"type":"log","domain":[0.1,10],"range":[457.3,668.7],"nice":false},"axis":null}}},
{"data":{"values":[{}]},"mark":{"type":"rule","color":"#000000","strokeWidth":1.5,"yOffset":10.97,"y2Offset":-11},"encoding":{"x":{"datum":1,"type":"quantitative","scale":{"type":"log","domain":[0.1,10],"range":[457.3,668.7],"nice":false},"axis":null},"y":{"datum":"sp1"},"y2":{"datum":"het"}}},
{"data":{"name":"dB"},"transform":[{"filter":"datum.row=='overall'"},{"fold":["lo","or","hi"],"as":["k","v"]}],"mark":{"type":"trail","color":"#0000ff","stroke":"#00003a","strokeWidth":1},"encoding":{"x":{"field":"v","type":"quantitative","scale":{"type":"log","domain":[0.1,10],"range":[457.3,668.7],"nice":false},"axis":null},"size":{"field":"k","type":"ordinal","scale":{"type":"ordinal","domain":["lo","or","hi"],"range":[0,12,0]},"legend":null},"order":{"field":"v","type":"quantitative"}}},
{"data":{"values":[{"t":"Odds Ratio"}]},"mark":{"type":"text","align":"center","fontWeight":"bold"},"encoding":{"x":{"datum":1,"type":"quantitative","scale":{"type":"log","domain":[0.1,10],"range":[457.3,668.7],"nice":false},"axis":null},"y":{"datum":"h2"},"text":{"field":"t","type":"nominal"}}}
]
}
]
}
